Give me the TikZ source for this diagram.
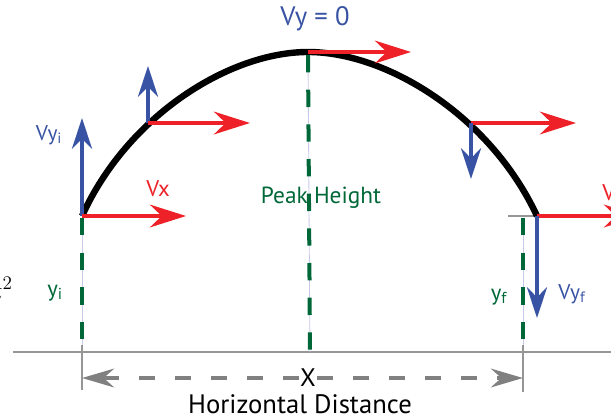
\documentclass[tikz,border=0pt]{standalone}
\usepackage{fontspec}
\setmainfont{PT Sans}
\usetikzlibrary{arrows.meta}

\definecolor{velred}{RGB}{237,33,39}
\definecolor{velblue}{RGB}{57,83,164}
\definecolor{hgreen}{RGB}{0,104,56}
\definecolor{lavender}{RGB}{200,200,235}
\definecolor{rulegray}{RGB}{150,150,150}

\tikzset{
  vxarrow/.style={line width=3pt, draw=velred, -{Stealth[length=27pt,width=17pt]}},
  vyarrow/.style={line width=3pt, draw=velblue, -{Stealth[length=23pt,width=15pt]}},
  pathline/.style={line width=4.8pt, draw=black},
  heightline/.style={preaction={draw=lavender, line width=0.6pt, solid},
    draw=hgreen, line width=3pt, dash pattern=on 13pt off 13pt},
  groundline/.style={line width=2pt, draw=rulegray},
  tickline/.style={line width=1.2pt, draw=rulegray},
  dimline/.style={line width=3pt, draw=gray, dash pattern=on 12pt off 15pt,
    -{Stealth[length=24pt,width=14pt]}},
  lbl/.style={font=\fontsize{19}{21}\selectfont, inner sep=1pt},
  smalllbl/.style={font=\fontsize{16}{18}\selectfont, inner sep=1pt},
}

\begin{document}
\begin{tikzpicture}[x=0.75pt,y=-0.75pt]
  \useasboundingbox (0,0) rectangle (611,419);
  \clip (0,0) rectangle (611,419);

  % points on the path
  \coordinate (launch) at (82,216);
  \coordinate (rise) at (148,123);
  \coordinate (peak) at (308,52);
  \coordinate (fall) at (471,123);
  \coordinate (land) at (537,216);

  % ground
  \draw[groundline] (13,352) -- (611,352);
  \draw[groundline] (508,216) -- (land);

  % flight path
  \draw[pathline] (launch) .. controls (128,115) and (230,52) .. (peak)
    .. controls (386,52) and (490,115) .. (land);

  % velocity components
  \draw[vyarrow] (launch) -- (82,118);
  \draw[vxarrow] (launch) -- (186,216);
  \draw[vyarrow] (rise) -- (148,66);
  \draw[vxarrow] (rise) -- (250,123);
  \draw[vxarrow] (peak) -- (411,52);
  \draw[vxarrow] (fall) -- (576,123);
  \draw[vyarrow] (fall) -- (471,179);
  \draw[vxarrow] (land) -- (640,216);
  \draw[vyarrow] (land) -- (537,318);

  % heights
  \draw[heightline] (82,218) -- (82,352);
  \draw[heightline] (308,55) -- (310,352);
  \draw[heightline] (523,218) -- (523,352);

  % horizontal distance
  \draw[tickline] (82,345) -- (82,390);
  \draw[tickline] (523,345) -- (523,392);
  \node[lbl] (xlab) at (308,378) {X};
  \coordinate (xl) at (82,378);
  \coordinate (xr) at (523,378);
  \draw[dimline] (xlab) -- (xl);
  \draw[dimline] (xlab) -- (xr);
  \node[lbl, font=\fontsize{20}{22}\selectfont] (hdist) at (300,404) {Horizontal Distance};

  % labels
  \node[smalllbl, text=velblue] (vyi) at (49,135) {Vy\textsubscript{i}};
  \node[smalllbl, font=\fontsize{17}{19}\selectfont, text=velred] (vx) at (158,189) {Vx};
  \node[lbl, font=\fontsize{20}{22}\selectfont, text=velblue] (vyzero) at (315,19) {Vy = 0};
  \node[lbl, font=\fontsize{17.5}{20}\selectfont, text=hgreen] (peakh) at (321,198) {Peak Height};
  \node[lbl, font=\fontsize{17}{19}\selectfont, text=hgreen] (yi) at (55,293) {y\textsubscript{i}};
  \node[lbl, font=\fontsize{17}{19}\selectfont, text=hgreen] (yf) at (499,297) {y\textsubscript{f}};
  \node[smalllbl, text=velblue] (vyf) at (572,294) {Vy\textsubscript{f}};
  \node[lbl, font=\fontsize{17}{19}\selectfont, text=velred, anchor=west, inner sep=0pt] (vxend) at (602,193) {Vx};
  \node[font=\fontsize{20}{22}\selectfont, anchor=base east, inner sep=0pt] (gtsq) at (13,300) {$gt^2$};
\end{tikzpicture}
\end{document}
